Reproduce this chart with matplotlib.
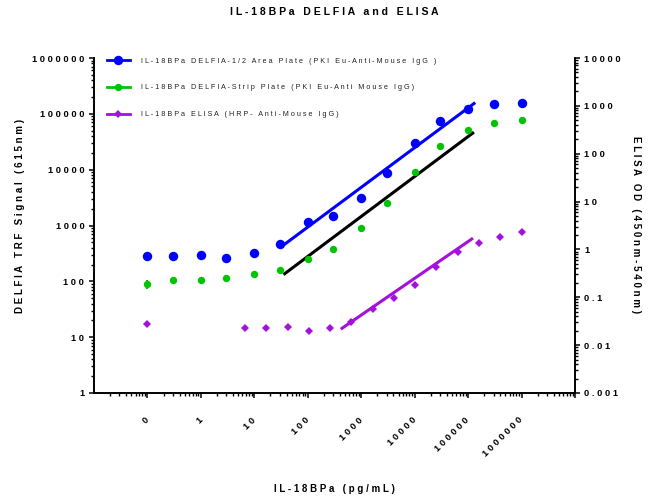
import numpy as np
import matplotlib
matplotlib.use('Agg')
import matplotlib.pyplot as plt
from matplotlib.lines import Line2D
from matplotlib.ticker import LogLocator, NullFormatter

plt.rcParams['font.family'] = ['Liberation Sans', 'DejaVu Sans']

# ---------------- data ----------------
delfia_x = [0.1, 0.3, 1, 3, 10, 30, 100, 300, 1000, 3000, 10000, 30000, 100000, 300000, 1000000]
half_area_y = [283, 290, 302, 262, 320, 470, 1165, 1510, 3090, 8840, 30300, 73000, 124000, 152000, 157000]
half_area_err_lo = [0, 0, 0, 0, 0, 98, 0, 0, 0, 0, 0, 0, 0, 0, 0]
half_area_err_hi = [0, 0, 0, 0, 0, 86, 0, 0, 0, 0, 0, 0, 0, 0, 0]
strip_y = [88, 107, 107, 115, 135, 157, 254, 377, 895, 2540, 9200, 26800, 52400, 69000, 76000]
strip_err_lo = [15, 0, 0, 0, 0, 0, 0, 0, 0, 0, 0, 0, 0, 0, 0]
strip_err_hi = [19, 0, 0, 0, 0, 0, 0, 0, 0, 0, 0, 0, 0, 0, 0]
elisa_x = [0.1, 6.7, 16.8, 42, 105, 262, 655, 1638, 4096, 10240, 25600, 64000, 160000, 400000, 1000000]
elisa_y = [0.0277, 0.0231, 0.0228, 0.0239, 0.020, 0.0228, 0.031, 0.0577, 0.0966, 0.181,
           0.435, 0.897, 1.36, 1.79, 2.31]
elisa_err = [0.0023, 0, 0, 0, 0, 0, 0, 0, 0, 0, 0, 0, 0, 0, 0]

# linear-fit segments (endpoints)
half_fit_x = [38, 129000]
half_fit_y = [471, 153000]
strip_fit_x = [37, 122000]
strip_fit_y = [137, 45200]
elisa_fit_x = [437, 117000]
elisa_fit_y = [0.0225, 1.65]

x_tick_vals = [0.1, 1, 10, 100, 1000, 10000, 100000, 1000000, 10000000]
x_tick_labels = ['0', '1', '10', '100', '1000', '10000', '100000', '1000000', '']
yl_tick_vals = [1, 10, 100, 1000, 10000, 100000, 1000000]
yl_tick_labels = ['1', '10', '100', '1000', '10000', '100000', '1000000']
yr_tick_vals = [0.001, 0.01, 0.1, 1, 10, 100, 1000, 10000]
yr_tick_labels = ['0.001', '0.01', '0.1', '1', '10', '100', '1000', '10000']

series_labels = ['IL-18BPa DELFIA-1/2 Area Plate (PKI Eu-Anti-Mouse IgG )',
                 'IL-18BPa DELFIA-Strip Plate (PKI Eu-Anti Mouse IgG)',
                 'IL-18BPa ELISA (HRP- Anti-Mouse IgG)']
title = 'IL-18BPa DELFIA and ELISA'
xlabel = 'IL-18BPa (pg/mL)'
ylabel_left = 'DELFIA TRF Signal (615nm)'
ylabel_right = 'ELISA OD (450nm-540nm)'

BLUE = '#0000FF'
GREEN = '#00C400'
PURPLE = '#A410DC'


def sp(s):
    """letter-spaced text, like the reference"""
    return ' '.join(s)


W, H = 656, 501
fig = plt.figure(figsize=(W / 100, H / 100), dpi=100)
L, R, T, B = 94, 575, 58, 393
ax = fig.add_axes([L / W, 1 - B / H, (R - L) / W, (B - T) / H])
ax2 = ax.twinx()

ax.set_xscale('log')
ax.set_yscale('log')
ax2.set_yscale('log')
ax.set_xlim(0.01, 1e7)
ax.set_ylim(1, 1e6)
ax2.set_ylim(0.001, 10000)

# data
ax.errorbar(delfia_x, half_area_y, yerr=[half_area_err_lo, half_area_err_hi], fmt='o',
            color=BLUE, ms=6.8, mew=0, capsize=2.5, elinewidth=1.5, capthick=1.5, zorder=4)
ax.errorbar(delfia_x, strip_y, yerr=[strip_err_lo, strip_err_hi], fmt='o',
            color=GREEN, ms=5.3, mew=0, capsize=2.5, elinewidth=1.5, capthick=1.5, zorder=4)
ax.plot(half_fit_x, half_fit_y, color=BLUE, lw=2.2, zorder=3)
ax.plot(strip_fit_x, strip_fit_y, color='black', lw=2.2, zorder=3)

ax2.errorbar(elisa_x, elisa_y, yerr=elisa_err, fmt='D', color=PURPLE, ms=4.4, mew=0,
             capsize=2, elinewidth=1.5, capthick=1.5, zorder=4)
ax2.plot(elisa_fit_x, elisa_fit_y, color=PURPLE, lw=2.2, zorder=3)

# spines
for a in (ax, ax2):
    a.spines['top'].set_visible(False)
    for s in a.spines.values():
        s.set_linewidth(1.4)
ax.spines['right'].set_visible(False)
ax2.spines['left'].set_visible(False)
ax2.spines['bottom'].set_visible(False)

tick_font = dict(fontsize=6.7, fontweight='bold')

ax.set_xticks(x_tick_vals)
ax.set_xticklabels([sp(t) for t in x_tick_labels], rotation=45, ha='right', va='center',
                   rotation_mode='anchor', **tick_font)
ax.xaxis.set_minor_locator(LogLocator(base=10, subs=np.arange(2, 10), numticks=50))
ax.xaxis.set_minor_formatter(NullFormatter())

ax.set_yticks(yl_tick_vals)
ax.set_yticklabels([sp(t) for t in yl_tick_labels], **tick_font)
ax.yaxis.set_minor_locator(LogLocator(base=10, subs=np.arange(2, 10), numticks=50))
ax.yaxis.set_minor_formatter(NullFormatter())

ax2.set_yticks(yr_tick_vals)
ax2.set_yticklabels([sp(t) for t in yr_tick_labels], **tick_font)
ax2.yaxis.set_minor_locator(LogLocator(base=10, subs=np.arange(2, 10), numticks=50))
ax2.yaxis.set_minor_formatter(NullFormatter())

ax.tick_params(axis='both', which='major', direction='out', length=3.5, width=1.1)
ax.tick_params(axis='both', which='minor', direction='out', length=2.0, width=1.0)
ax.tick_params(axis='x', which='major', pad=15)
ax.tick_params(axis='y', which='major', pad=3.5)
ax2.tick_params(axis='y', which='major', direction='out', length=3.5, width=1.1, pad=3)
ax2.tick_params(axis='y', which='minor', direction='out', length=2.0, width=1.0)

# labels
lab_font = dict(fontsize=7, fontweight='bold')
fig.text((L + R) / 2 / W, 1 - 12 / H, sp(title), ha='center', va='center',
         fontsize=7.6, fontweight='bold')
fig.text((L + R) / 2 / W, 1 - 489 / H, sp(xlabel), ha='center', va='center', **lab_font)
fig.text(20.5 / W, 1 - 216 / H, sp(ylabel_left), ha='center', va='center', rotation=90, **lab_font)
fig.text(636 / W, 1 - 225 / H, sp(ylabel_right), ha='center', va='center', rotation=-90, **lab_font)

# legend
handles = [Line2D([], [], color=BLUE, lw=2.0, marker='o', ms=6.8, mew=0),
           Line2D([], [], color=GREEN, lw=2.0, marker='o', ms=5.3, mew=0),
           Line2D([], [], color=PURPLE, lw=2.0, marker='D', ms=4.4, mew=0)]
leg = fig.legend(handles, [sp(s) for s in series_labels], loc='upper left',
                 bbox_to_anchor=(106.5 / W, 1 - 57.5 / H), frameon=False,
                 prop=dict(size=5.2), handlelength=3.2, handletextpad=1.6,
                 labelspacing=2.75, borderpad=0, borderaxespad=0)
for t in leg.get_texts():
    t.set_color('#222222')

fig.savefig('out.png', dpi=100)
